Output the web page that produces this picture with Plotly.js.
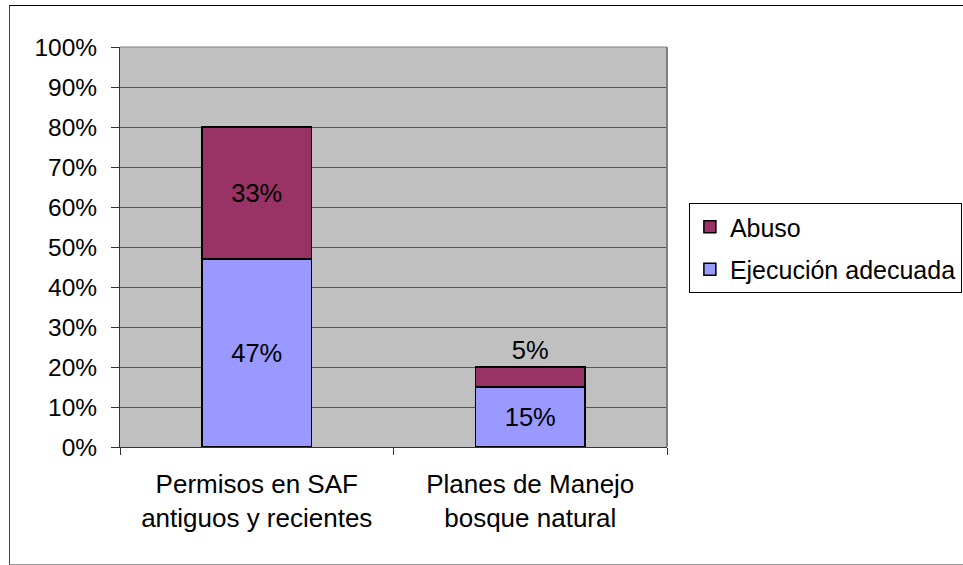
<!DOCTYPE html>
<html>
<head>
<meta charset="utf-8">
<script src="https://cdn.plot.ly/plotly-3.0.1.min.js"></script>
<style>
html,body{margin:0;padding:0;background:#fff;}
#wrap{position:relative;width:963px;height:565px;}
#chart{width:963px;height:565px;}
#frame{position:absolute;left:9px;top:5px;width:960px;height:558px;border-top:1px solid #000;border-left:1px solid #444;border-bottom:1px solid #999;pointer-events:none;}
</style>
</head>
<body>
<div id="wrap"><div id="chart"></div><div id="frame"></div></div>
<script>
var categories = ["Permisos en SAF<br>antiguos y recientes", "Planes de Manejo<br>bosque natural"];
var seriesNames = ["Ejecución adecuada", "Abuso"];
var ejecucion = [0.47, 0.15];
var abuso = [0.33, 0.05];
var ejecucionLabels = ["47%", "15%"];
var abusoLabels = ["33%", "5%"];
var yTickVals = [0,0.1,0.2,0.3,0.4,0.5,0.6,0.7,0.8,0.9,1.0];
var yTickText = ["0%","10%","20%","30%","40%","50%","60%","70%","80%","90%","100%"];

var FONT = "Liberation Sans, Arial, sans-serif";
var traces = [
  {
    type: "bar", name: seriesNames[0], x: categories, y: ejecucion,
    text: ejecucionLabels, textposition: "inside", insidetextanchor: "middle",
    textfont: {family: FONT, size: 25.5, color: "#000"},
    marker: {color: "#9999FF", line: {color: "#000", width: 1.5}},
    width: 0.4, legendgroup: "a", legendrank: 2, hoverinfo: "none"
  },
  {
    type: "bar", name: seriesNames[1], x: categories, y: abuso,
    text: abusoLabels, textposition: ["inside", "outside"], insidetextanchor: "middle",
    textfont: {family: FONT, size: 25.5, color: "#000"},
    outsidetextfont: {family: FONT, size: 25.5, color: "#000"},
    marker: {color: "#993366", line: {color: "#000", width: 1.5}},
    width: 0.4, legendgroup: "b", legendrank: 1, hoverinfo: "none", cliponaxis: false
  }
];

var layout = {
  width: 963, height: 565,
  margin: {l: 120, r: 296, t: 47, b: 118, autoexpand: false},
  paper_bgcolor: "#fff",
  plot_bgcolor: "#C0C0C0",
  barmode: "stack",
  font: {family: FONT, size: 25, color: "#000"},
  showlegend: true,
  legend: {
    x: 1.04, y: 0.4975, xanchor: "left", yanchor: "middle",
    bgcolor: "#fff", bordercolor: "#000", borderwidth: 1,
    font: {family: FONT, size: 25, color: "#000"},
    traceorder: "grouped", tracegroupgap: 7
  },
  xaxis: {
    type: "category", showgrid: false, showline: true, linecolor: "#333", linewidth: 1,
    ticks: "outside", tickson: "boundaries", ticklen: 7, tickcolor: "#333",
    tickfont: {family: FONT, size: 26, color: "#000"}, ticklabelstandoff: 14,
    zeroline: false, mirror: false
  },
  yaxis: {
    range: [0, 1], tickvals: yTickVals, ticktext: yTickText,
    showgrid: true, gridcolor: "#555", gridwidth: 1,
    showline: true, linecolor: "#333", linewidth: 1,
    ticks: "outside", ticklen: 8, tickcolor: "#333", ticklabelstandoff: 9,
    tickfont: {family: FONT, size: 24.5, color: "#000"}, zeroline: false
  },
  shapes: [
    {type: "line", xref: "paper", yref: "paper", x0: 1, x1: 1, y0: 0, y1: 1, line: {color: "#808080", width: 2}},
    {type: "line", xref: "paper", yref: "paper", x0: 0, x1: 1, y0: 1, y1: 1, line: {color: "#808080", width: 1}}
  ]
};

Plotly.newPlot("chart", traces, layout, {displayModeBar: false, staticPlot: true});
</script>
</body>
</html>
